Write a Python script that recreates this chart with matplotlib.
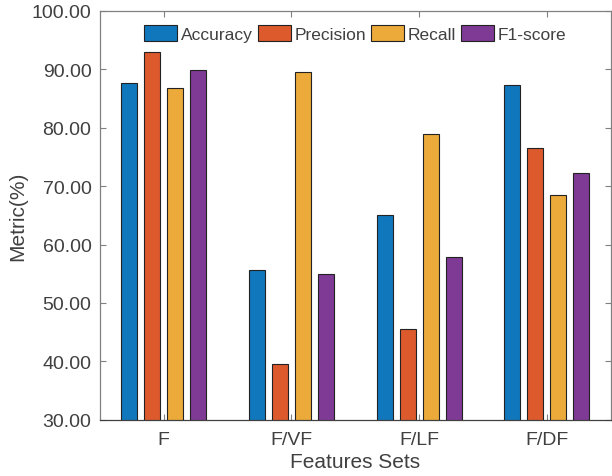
import numpy as np
import matplotlib
matplotlib.use("Agg")
import matplotlib.pyplot as plt

plt.rcParams['font.family'] = ['Liberation Sans', 'DejaVu Sans']

# data
feature_sets = ["F", "F/VF", "F/LF", "F/DF"]
accuracy = [87.6, 55.6, 65.1, 87.4]
precision = [93.0, 39.5, 45.5, 76.5]
recall = [86.8, 89.6, 79.0, 68.5]
f1_score = [89.8, 54.9, 57.8, 72.3]
metric_names = ["Accuracy", "Precision", "Recall", "F1-score"]

colors = ["#1177BD", "#DC5A2C", "#ECAA3A", "#7E3A94"]
txt = "#404040"

fig = plt.figure(figsize=(6.12, 4.77), dpi=100)
ax = fig.add_axes([0.163, 0.118, 0.835, 0.857])

x = np.arange(1, len(feature_sets) + 1)
offsets = [-0.27, -0.09, 0.09, 0.27]
width = 0.125
for vals, off, c, name in zip([accuracy, precision, recall, f1_score], offsets, colors, metric_names):
    ax.bar(x + off, vals, width, bottom=0, color=c, edgecolor="#222222", linewidth=0.8, label=name)

ax.set_xlim(0.5, 4.5)
ax.set_ylim(30, 100)
ax.set_xticks(x)
ax.set_xticklabels(feature_sets)
ax.set_yticks(np.arange(30, 101, 10))
ax.set_yticklabels([f"{v:.2f}" for v in np.arange(30, 101, 10)])
ax.tick_params(direction="in", top=True, right=True, length=4, width=0.8,
               colors="#808080", labelcolor=txt, labelsize=14, pad=6)
ax.tick_params(axis="x", pad=8)
for s in ax.spines.values():
    s.set_color("#808080")
    s.set_linewidth(0.9)
ax.spines["bottom"].set_color("#404040")

ax.set_xlabel("Features Sets", fontsize=15, color=txt, labelpad=3)
ax.set_ylabel("Metric(%)", fontsize=15, color=txt, labelpad=3)

ax.legend(loc="upper center", ncol=4, frameon=False, fontsize=12.5,
          handlelength=1.9, handleheight=1.1, handletextpad=0.2, columnspacing=0.3,
          bbox_to_anchor=(0.5, 1.005), labelcolor=txt)

fig.savefig("out.png", dpi=100)
